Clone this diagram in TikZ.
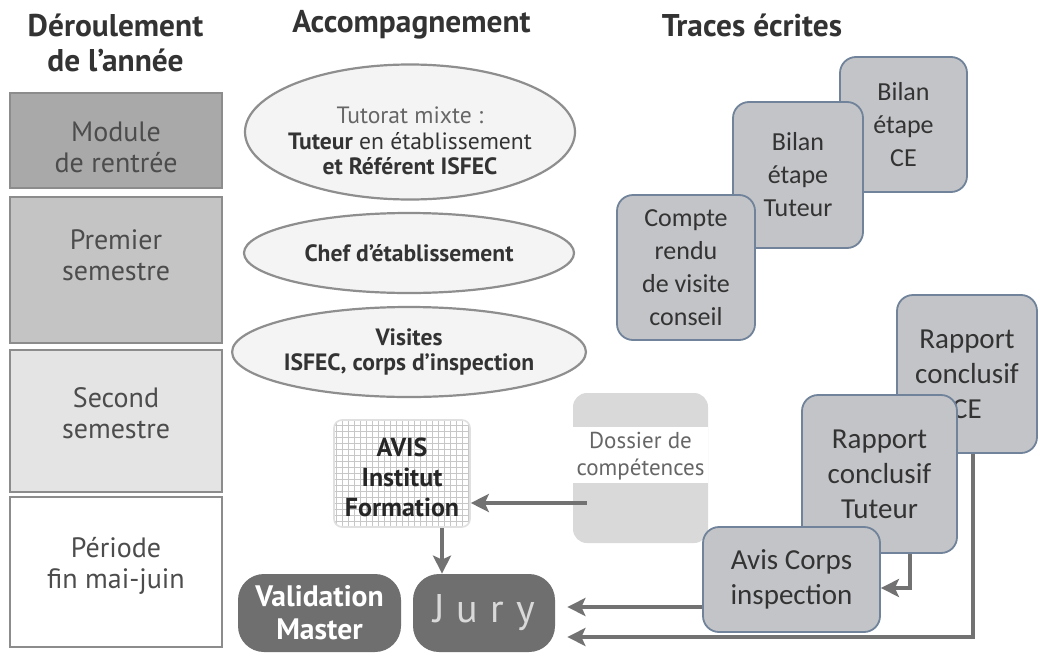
\documentclass[tikz,border=0pt]{standalone}
\usepackage{fontspec}
\setmainfont{PT Sans}
\newfontfamily\calfont{Carlito}
\usetikzlibrary{shapes.geometric,arrows.meta,patterns}
\definecolor{boxline}{HTML}{8C8C8C}
\definecolor{modfill}{HTML}{A9A9A9}
\definecolor{premfill}{HTML}{C4C4C4}
\definecolor{secfill}{HTML}{E4E4E4}
\definecolor{ellline}{HTML}{8E8E8E}
\definecolor{ellfill}{HTML}{F4F4F4}
\definecolor{traceline}{HTML}{70839A}
\definecolor{tracefill}{HTML}{C3C4C7}
\definecolor{darkbox}{HTML}{6F6F6F}
\definecolor{arrowgray}{HTML}{727272}
\definecolor{dosfill}{HTML}{D9D9D9}

\begin{document}
\begin{tikzpicture}[x=0.5pt,y=-0.5pt,
		title/.style={font=\fontsize{15.7}{17.5}\selectfont\bfseries,text=black!80,align=center},
		yearbox/.style={draw=boxline,line width=1.3pt,minimum width=106pt,inner sep=0pt},
		yeartxt/.style={font=\fontsize{14}{15.5}\selectfont,text=black!70,align=center},
		accomp/.style={ellipse,draw=ellline,line width=1.1pt,fill=ellfill,minimum width=165pt,inner sep=0pt,align=center,font=\fontsize{11.8}{12.8}\selectfont,text=black!80},
		trace/.style={draw=traceline,line width=0.9pt,fill=tracefill,rounded corners=8pt,inner sep=0pt,align=center,font=\calfont\fontsize{13}{16.5}\selectfont,text=black!80},
		bigtrace/.style={trace,font=\calfont\fontsize{14.5}{17.5}\selectfont},
		final/.style={fill=darkbox,rounded corners=13pt,inner sep=0pt,align=center,minimum height=39pt},
		flow/.style={draw=arrowgray,line width=2pt,-{Stealth[length=9pt,width=9pt,inset=2pt]}}]
	\useasboundingbox[fill=white] (0,0) rectangle (1038,653);
	% titres des colonnes
	\node[title] (t1) at (115.5,42.5) {Déroulement\\de l’année};
	\node[title] (t2) at (411.5,25) {Accompagnement};
	\node[title] (t3) at (752,25) {Traces écrites};
	% deroulement de l'annee
	\node[yearbox,fill=modfill,minimum height=47.5pt,label={[yeartxt,yshift=-3.5pt]center:{Module\\de rentrée}}] (mod) at (116,140.5) {};
	\node[yearbox,fill=premfill,minimum height=73pt,label={[yeartxt,yshift=7.5pt]center:{Premier\\semestre}}] (prem) at (116,270) {};
	\node[yearbox,fill=secfill,minimum height=71pt,label={[yeartxt,yshift=3.75pt]center:{Second\\semestre}}] (sec) at (116,421) {};
	\node[yearbox,fill=white,minimum height=75pt,label={[yeartxt,yshift=3pt]center:{Période\\fin mai-juin}}] (per) at (116,572) {};
	% accompagnement
	\node[accomp,minimum height=67.5pt,label={[align=center,font=\fontsize{11.8}{12.8}\selectfont,text=black!80,yshift=-4.5pt]center:{\textcolor{black!60}{Tutorat mixte :}\\\textbf{Tuteur} en établissement\\\textbf{et Référent ISFEC}}}] (tut) at (410,132) {};
	\node[accomp,minimum height=40pt,font=\fontsize{11.8}{12.8}\selectfont\bfseries] (chef) at (409,253) {Chef d’établissement};
	\node[accomp,minimum height=45pt,font=\fontsize{11.8}{12.8}\selectfont\bfseries] (vis) at (409,352) {Visites\\ISFEC, corps d’inspection};
	\node[draw=black!12,line width=0.8pt,rounded corners=4pt,pattern=grid,pattern color=black!22,minimum width=68pt,minimum height=53.5pt,inner sep=0pt,
		label={[font=\fontsize{13}{15}\selectfont\bfseries,text=black!85,align=center,yshift=-2pt]center:{AVIS\\Institut\\Formation}}] (avis) at (402,473.5) {};
	\node[fill=dosfill,rounded corners=7pt,minimum width=67.5pt,minimum height=75pt,inner sep=0pt,
		path picture={\fill[white,sharp corners] (path picture bounding box.west) ++(0,-41) rectangle ++(135,56);},
		label={[font=\fontsize{11.5}{13.5}\selectfont,text=black!60,align=center,yshift=6pt]center:{Dossier de\\compétences}}] (dos) at (640.5,468) {};
	\node[final,minimum width=81.5pt,font=\fontsize{14.8}{16.5}\selectfont\bfseries,text=white] (val) at (319.5,613) {Validation\\Master};
	\node[final,minimum width=71pt,font=\fontsize{20}{22}\selectfont,text=black!15] (jury) at (484,613) {J\hspace{6pt}u\hspace{6pt}r\hspace{6pt}y};
	% traces ecrites
	\node[trace,minimum width=63.5pt,minimum height=67.5pt] (bce) at (903.5,124.5) {Bilan\\étape\\CE};
	\node[trace,minimum width=65pt,minimum height=73pt] (btut) at (798,175) {Bilan\\étape\\Tuteur};
	\node[trace,minimum width=69pt,minimum height=72.5pt] (crv) at (686,267.5) {Compte\\rendu\\de visite\\conseil};
	\node[bigtrace,minimum width=70pt,minimum height=79pt] (rce) at (967,374) {Rapport\\conclusif\\CE};
	\node[bigtrace,minimum width=77.5pt,minimum height=79pt] (rtut) at (879.5,474) {Rapport\\conclusif\\Tuteur};
	\node[bigtrace,minimum width=88.5pt,minimum height=52.5pt] (avc) at (791.5,579.5) {Avis Corps\\inspection};
	% fleches
	\draw[flow] ([xshift=7pt,yshift=-17.5pt]dos.west) -- ([yshift=-17.5pt]dos.west -| avis.east);
	\draw[flow] ([xshift=20pt]avis.south) -- ([xshift=20pt]avis.south |- jury.north);
	\draw[flow,shorten >=6pt] ([yshift=-13.75pt]avc.west) -- ([yshift=-13.75pt]avc.west -| jury.east);
	\draw[flow] ([xshift=15pt]rtut.south) |- ([yshift=-4.25pt]avc.east);
	\draw[flow,shorten >=6pt] ([xshift=3pt]rce.south) |- ([yshift=-12pt]jury.east);
\end{tikzpicture}
\end{document}
